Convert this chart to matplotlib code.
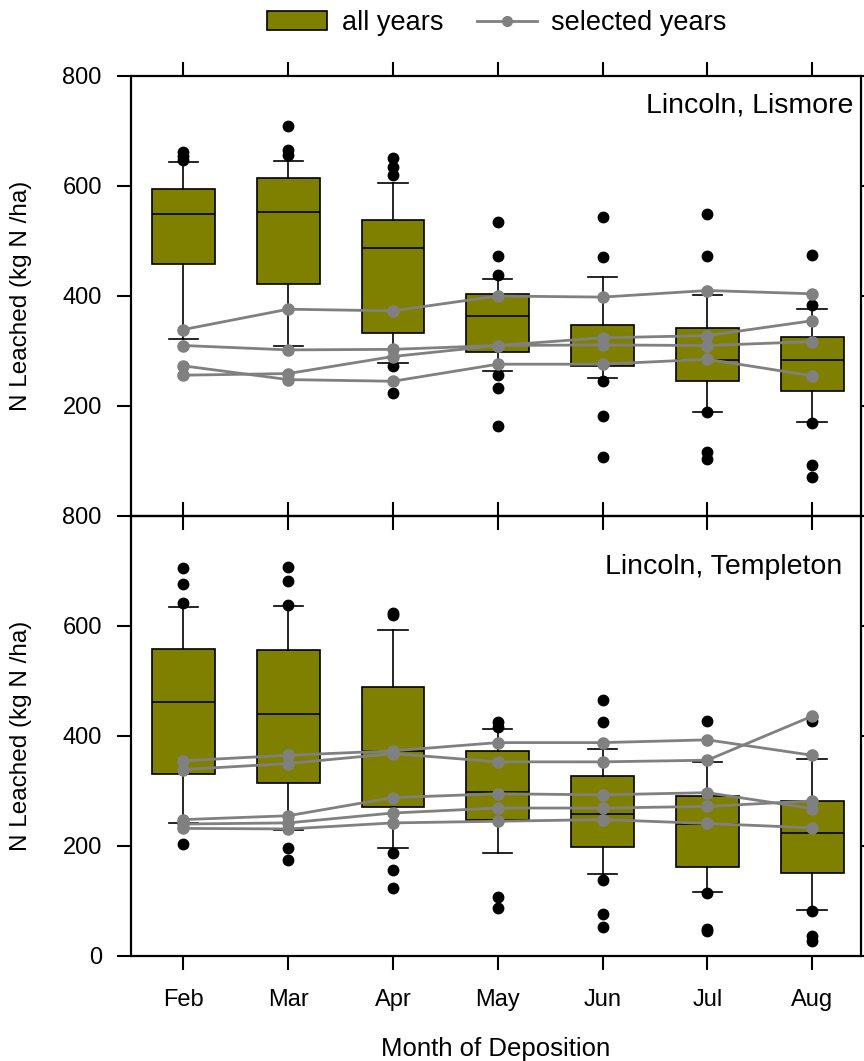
import matplotlib
matplotlib.use('Agg')
import matplotlib.pyplot as plt
from matplotlib.patches import Patch
from matplotlib.lines import Line2D

plt.rcParams['font.family'] = ['Liberation Sans', 'DejaVu Sans']
plt.rcParams['font.size'] = 17

months = ['Feb', 'Mar', 'Apr', 'May', 'Jun', 'Jul', 'Aug']

# ---- Lincoln, Lismore (all years box statistics) ----
lis_whislo = [322, 309, 278, 264, 251, 190, 171]
lis_q1     = [458, 422, 333, 298, 273, 246, 227]
lis_med    = [549, 553, 488, 364, 311, 283, 283]
lis_q3     = [594, 615, 539, 404, 348, 342, 325]
lis_whishi = [644, 645, 606, 431, 434, 402, 377]
lis_fliers = [
    [648, 655, 661],
    [656, 665, 709],
    [620, 635, 651, 272, 223],
    [439, 473, 535, 256, 232, 164],
    [471, 544, 245, 182, 108],
    [473, 550, 189, 117, 103],
    [384, 475, 170, 92, 71],
]
# selected years
lis_sel = [
    [339, 376, 373, 400, 398, 410, 404],
    [310, 302, 303, 310, 311, 310, 317],
    [256, 259, 290, 310, 324, 328, 355],
    [273, 248, 245, 276, 276, 285, 255],
]

# ---- Lincoln, Templeton ----
tem_whislo = [241, 230, 197, 188, 149, 117, 84]
tem_q1     = [331, 315, 271, 247, 198, 161, 151]
tem_med    = [462, 440, 373, 298, 259, 240, 223]
tem_q3     = [558, 556, 490, 372, 327, 291, 282]
tem_whishi = [635, 636, 593, 413, 376, 352, 358]
tem_fliers = [
    [642, 676, 705, 203],
    [639, 682, 708, 196, 175],
    [620, 624, 188, 156, 123],
    [417, 425, 107, 88],
    [425, 465, 138, 76, 52],
    [427, 115, 50, 45],
    [427, 434, 82, 36, 28],
]
tem_sel = [
    [355, 365, 373, 388, 388, 393, 365],
    [339, 350, 368, 353, 353, 356, 436],
    [248, 255, 288, 295, 293, 297, 268],
    [240, 242, 260, 269, 269, 272, 282],
    [232, 231, 242, 245, 248, 241, 233],
]

OLIVE = '#808000'
GRAY = '#808080'
positions = list(range(1, len(months) + 1))


def make_stats(lo, q1, med, q3, hi, fl):
    return [dict(whislo=a, q1=b, med=c, q3=d, whishi=e, fliers=f, label=m)
            for a, b, c, d, e, f, m in zip(lo, q1, med, q3, hi, fl, months)]


def draw_panel(ax, stats, sel, title, tx, ty, yticks, show_xlabels):
    ax.patch.set_visible(False)
    lw = 1.2
    ax.bxp(stats, positions=positions, widths=0.6, capwidths=0.28,
           patch_artist=True,
           boxprops=dict(facecolor=OLIVE, edgecolor='black', linewidth=lw),
           medianprops=dict(color='black', linewidth=lw),
           whiskerprops=dict(color='black', linewidth=lw),
           capprops=dict(color='black', linewidth=lw),
           flierprops=dict(marker='o', markerfacecolor='black',
                           markeredgecolor='black', markersize=7.5))
    for s in sel:
        ax.plot(positions, s, color=GRAY, lw=2.0, marker='o', ms=8,
                mfc=GRAY, mec=GRAY, zorder=5, clip_on=False)
    ax.set_xlim(0.5, 7.467)
    ax.set_ylim(0, 800)
    ax.set_yticks(yticks)
    ax.set_xticks(positions)
    ax.set_xticklabels(months)
    for sp in ax.spines.values():
        sp.set_linewidth(1.6)
    ax.tick_params(axis='both', direction='out', length=10, width=1.5,
                   top=True, bottom=True, left=True, right=True,
                   labelright=False, labeltop=False,
                   labelbottom=show_xlabels)
    ax.tick_params(axis='x', pad=14)
    ax.tick_params(axis='y', pad=11)
    ax.set_ylabel('N Leached (kg N /ha)', fontsize=17.5)
    ax.yaxis.set_label_coords(-0.135, 0.5)
    ax.text(tx, ty, title, transform=ax.transAxes, ha='right', va='center',
            fontsize=20.5)


fig = plt.figure(figsize=(8.64, 10.61), dpi=100)
L, W = 131 / 864, 730 / 864
H = 440 / 1061
ax1 = fig.add_axes([L, 1 - 516 / 1061, W, H])
ax2 = fig.add_axes([L, 1 - 956 / 1061, W, H])

draw_panel(ax1, make_stats(lis_whislo, lis_q1, lis_med, lis_q3, lis_whishi, lis_fliers),
           lis_sel, 'Lincoln, Lismore', 0.990, 0.934, [200, 400, 600, 800], False)
draw_panel(ax2, make_stats(tem_whislo, tem_q1, tem_med, tem_q3, tem_whishi, tem_fliers),
           tem_sel, 'Lincoln, Templeton', 0.974, 0.885, [0, 200, 400, 600, 800], True)

ax2.set_xlabel('Month of Deposition', fontsize=18.5)
ax2.xaxis.set_label_coords(0.5, -0.185)

handles = [Patch(facecolor=OLIVE, edgecolor='black', linewidth=1.2),
           Line2D([], [], color=GRAY, lw=2.0, marker='o', ms=7, mfc=GRAY, mec=GRAY)]
fig.legend(handles, ['all years', 'selected years'], loc='center',
           bbox_to_anchor=(497 / 864, 1 - 23 / 1061), ncol=2, frameon=False,
           handlelength=2.2, handletextpad=0.55, columnspacing=1.25, fontsize=19.5)

fig.savefig('out.png', dpi=100)
